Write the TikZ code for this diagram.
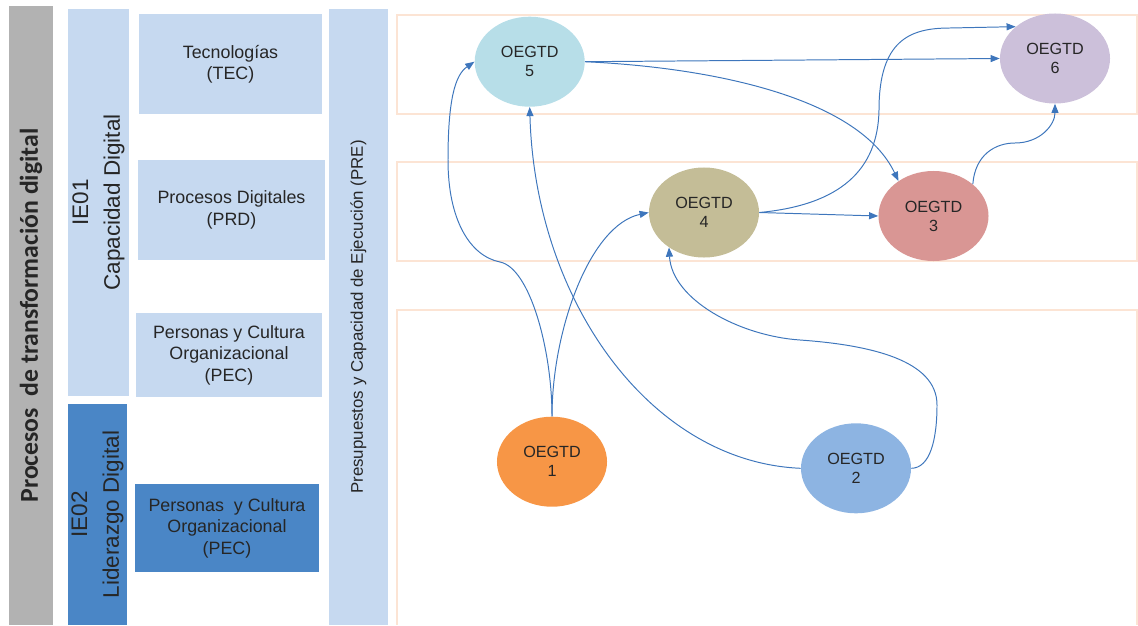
\documentclass[tikz,border=0pt]{standalone}
\usepackage{fontspec}
\setmainfont{Liberation Sans}
\newfontfamily\carlito{Carlito}
\usetikzlibrary{shapes.geometric,arrows.meta}
\definecolor{grayband}{RGB}{178,178,178}
\definecolor{lightblue}{RGB}{198,217,240}
\definecolor{darkblue}{RGB}{74,134,198}
\definecolor{bandline}{RGB}{252,228,212}
\definecolor{conn}{RGB}{62,118,188}
\definecolor{textc}{RGB}{38,38,38}
\definecolor{cfive}{RGB}{183,222,232}
\definecolor{cfour}{RGB}{196,189,151}
\definecolor{csix}{RGB}{204,192,218}
\definecolor{cthree}{RGB}{217,150,148}
\definecolor{cone}{RGB}{247,150,70}
\definecolor{ctwo}{RGB}{141,180,226}
\begin{document}
\begin{tikzpicture}[x=0.025cm,y=-0.025cm,
  every node/.style={text=textc},
  colbox/.style={rectangle, draw=none, inner sep=0pt, align=center},
  boxtext/.style={font=\fontsize{12.7}{15.2}\selectfont},
  band/.style={draw=bandline, line width=1.9pt},
  oe/.style={ellipse, draw=none, inner sep=0pt, minimum width=2.75cm, minimum height=2.25cm, align=center, font=\fontsize{11.5}{13.5}\selectfont},
  link/.style={draw=conn, line width=0.7pt, -{Triangle[length=6.5pt,width=5pt]}}
]
\useasboundingbox (0,0) rectangle (1138,625);

% left columns
\node[colbox, fill=grayband, rotate=90, minimum width=15.475cm, minimum height=1.1cm,
      font=\carlito\bfseries\fontsize{18.3}{22}\selectfont] (proc) at (31,315.5) {Procesos\ \ de transformación digital};
\node[colbox, fill=lightblue, rotate=90, minimum width=9.675cm, minimum height=1.525cm,
      font=\fontsize{16}{22.5}\selectfont] (ie01) at (98.5,202.5) {IE01\\Capacidad Digital};
\node[colbox, fill=darkblue, rotate=90, minimum width=5.525cm, minimum height=1.475cm,
      font=\fontsize{16}{22.5}\selectfont] (ie02) at (97.5,514.5) {IE02\\Liderazgo Digital};

\node[colbox, boxtext, fill=lightblue, minimum width=4.575cm, minimum height=2.5cm] (tec) at (230.5,64) {Tecnologías\\(TEC)};
\node[colbox, boxtext, fill=lightblue, minimum width=4.675cm, minimum height=2.5cm] (prd) at (231.5,210) {Procesos Digitales\\(PRD)};
\node[colbox, boxtext, fill=lightblue, minimum width=4.65cm, minimum height=2.1cm] (pecone) at (229,355) {Personas y Cultura\\Organizacional\\(PEC)};
\node[colbox, boxtext, fill=darkblue, minimum width=4.6cm, minimum height=2.2cm] (pectwo) at (227,528) {Personas\ \ y Cultura\\Organizacional\\(PEC)};

\node[colbox, fill=lightblue, rotate=90, minimum width=15.4cm, minimum height=1.475cm,
      font=\fontsize{12}{14}\selectfont] (pre) at (358.5,317) {Presupuestos y Capacidad de Ejecución (PRE)};

% bands
\draw[band] (397,15) rectangle (1137,114);
\draw[band] (397,162) rectangle (1137,261);
\draw[band] (397,625) -- (397,310) -- (1137,310) -- (1137,625);

% nodes
\node[oe, fill=cfive] (n5) at (529.7,61.7) {OEGTD\\5};
\node[oe, fill=cfour] (n4) at (704,212.5) {OEGTD\\4};
\node[oe, fill=csix] (n6) at (1055,58.5) {OEGTD\\6};
\node[oe, fill=cthree] (n3) at (933.5,216) {OEGTD\\3};
\node[oe, fill=cone] (n1) at (552,461.7) {OEGTD\\1};
\node[oe, fill=ctwo] (n2) at (856,468.3) {OEGTD\\2};

% connectors
\draw[link] (n1.north) .. controls (552,350) and (530,268) .. (500,262)
  .. controls (470,256) and (448,220) .. (448,160)
  .. controls (448,100) and (455,75) .. (n5.west);
\draw[link] (n1.north) .. controls (552,330) and (590,225) .. (n4.west);
\draw[link] (n2.west) .. controls (650,462) and (535,300) .. (n5.south);
\draw[link] (n2.east) .. controls (930,468) and (937,440) .. (937,405)
  .. controls (937,360) and (870,345) .. (800,340)
  .. controls (740,336) and (672,300) .. (n4.225);
\draw[link] (n5.east) -- (n6.west);
\draw[link] (n5.east) .. controls (720,68) and (860,100) .. (n3.135);
\draw[link] (n4.east) -- (n3.west);
\draw[link] (n4.east) .. controls (840,205) and (878,170) .. (879,110)
  .. controls (879,40) and (910,28) .. (950,28) -- (n6.141);
\draw[link] (n3.39) .. controls (975,155) and (995,143) .. (1015,143)
  .. controls (1040,143) and (1055,125) .. (n6.south);
\end{tikzpicture}
\end{document}
